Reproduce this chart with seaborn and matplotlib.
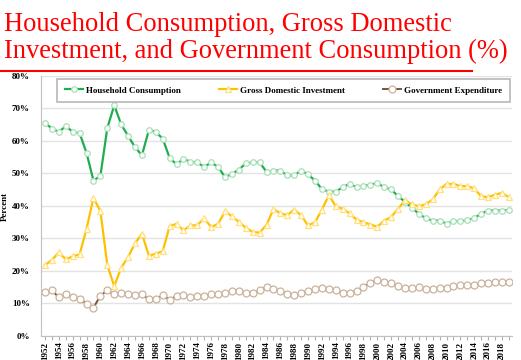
import numpy as np
import pandas as pd
import matplotlib
matplotlib.use("Agg")
import matplotlib.pyplot as plt
import seaborn as sns
from matplotlib.lines import Line2D
from matplotlib.ticker import MultipleLocator, PercentFormatter

# years and shares of GDP (%)
years = list(range(1952, 2020))
household = [65.6, 63.8, 62.8, 64.6, 62.8, 62.4, 56.3, 47.8, 49.3, 64.0,
             71.0, 65.1, 61.6, 58.1, 55.6, 63.4, 62.8, 60.7, 54.8, 52.8,
             54.5, 53.6, 53.4, 52.0, 53.4, 52.0, 48.9, 49.8, 51.2, 53.1,
             53.4, 53.4, 50.5, 50.9, 50.9, 49.4, 49.4, 50.9, 49.7, 47.8,
             45.2, 44.4, 44.4, 45.8, 46.8, 45.8, 46.1, 46.6, 47.0, 45.8,
             45.1, 43.0, 41.3, 39.4, 37.6, 36.2, 35.5, 35.5, 34.6, 35.3,
             35.3, 35.6, 36.3, 37.6, 38.6, 38.6, 38.6, 38.8]
investment = [21.8, 23.4, 25.7, 23.6, 24.5, 25.1, 33.0, 42.5, 38.4, 21.8,
              15.3, 21.0, 24.3, 28.5, 31.5, 24.7, 25.3, 26.1, 33.8, 34.5,
              32.5, 34.0, 34.1, 36.2, 33.5, 34.5, 38.4, 36.8, 35.1, 33.3,
              32.0, 31.8, 34.2, 39.1, 37.7, 37.2, 38.9, 37.1, 34.0, 35.0,
              38.9, 43.3, 39.9, 39.1, 37.7, 35.8, 35.0, 34.3, 33.6, 35.5,
              36.6, 39.2, 41.7, 40.5, 39.9, 40.5, 42.0, 45.1, 46.8, 46.8,
              46.1, 46.1, 45.4, 43.0, 42.7, 43.5, 44.0, 42.7]
government = [13.6, 14.0, 11.9, 12.8, 12.1, 11.5, 9.9, 8.7, 12.4, 14.0,
              12.8, 13.1, 13.0, 12.5, 12.8, 11.3, 11.4, 12.5, 11.2, 12.3,
              12.6, 12.1, 12.4, 12.3, 12.8, 12.8, 13.1, 13.8, 13.8, 13.1,
              13.1, 14.0, 15.1, 14.4, 13.8, 13.0, 12.5, 13.3, 13.8, 14.4,
              14.9, 14.5, 14.3, 13.3, 13.3, 13.8, 15.0, 16.4, 17.2, 16.7,
              16.2, 15.4, 14.8, 14.8, 15.0, 14.6, 14.5, 14.8, 14.8, 15.5,
              15.8, 15.8, 15.8, 16.3, 16.3, 16.5, 16.6, 16.7]

df = pd.DataFrame({"Year": years, "Household": household,
                   "Investment": investment, "Government": government})

serif = "Liberation Serif"
fig = plt.figure(figsize=(5.21, 3.60), dpi=100)
ax = fig.add_axes([0.0787, 0.0667, 0.904, 0.7222])

# title + red underline
fig.text(0.008, 0.968, "Household Consumption, Gross Domestic\n"
         "Investment, and Government Consumption (%)",
         ha="left", va="top", color="#ff0000", family=serif,
         fontsize=19.1, linespacing=1.12)
fig.add_artist(Line2D([0, 0.906], [0.803, 0.803], color="#ff0000", lw=1.5,
                      transform=fig.transFigure))

sns.lineplot(data=df, x="Year", y="Household", ax=ax, color="#1fae4f",
             lw=1.6, marker="o", ms=4.0, mfc="white", mec="#a8e0b8", mew=0.9,
             label="Household Consumption")
sns.lineplot(data=df, x="Year", y="Investment", ax=ax, color="#ffc000",
             lw=1.6, marker="^", ms=4.6, mfc="white", mec="#ffe07a", mew=0.9,
             label="Gross Domestic Investment")
sns.lineplot(data=df, x="Year", y="Government", ax=ax, color="#7a5533",
             lw=1.4, marker="o", ms=5.0, mfc="white", mec="#c9b39b", mew=0.9,
             label="Government Expenditure")

ax.set_xlim(1951.42, 2019.45)
ax.set_ylim(0, 80)
ax.yaxis.set_major_locator(MultipleLocator(10))
ax.yaxis.set_major_formatter(PercentFormatter(decimals=0))
ax.set_xticks(range(1952, 2020, 2))
ax.xaxis.set_minor_locator(MultipleLocator(1))
ax.grid(axis="y", color="#e3e3e3", lw=1)
ax.set_axisbelow(True)
for s in ["top", "right"]:
    ax.spines[s].set_visible(False)
for s in ["left", "bottom"]:
    ax.spines[s].set_color("#c0c0c0")
ax.tick_params(axis="x", which="both", direction="out", color="#b0b0b0",
               length=3, width=0.8, labelrotation=90, pad=1)
ax.tick_params(axis="y", length=0, pad=8)
for lab in ax.get_xticklabels() + ax.get_yticklabels():
    lab.set_family(serif)
    lab.set_fontweight("bold")
    lab.set_fontsize(6.5)
ax.set_xlabel("")
ax.set_ylabel("Percent", family=serif, fontweight="bold", fontsize=6.5,
              labelpad=2)

leg = ax.legend(loc="upper center", bbox_to_anchor=(0.515, 0.99), ncol=3,
                frameon=True, fancybox=False, edgecolor="#a6a6a6",
                prop={"family": serif, "weight": "bold", "size": 6.5},
                handlelength=2.0, handletextpad=0.3, columnspacing=4.25,
                borderpad=0.85, borderaxespad=0)
leg.get_frame().set_linewidth(1.2)

plt.savefig("out.png", dpi=100)
